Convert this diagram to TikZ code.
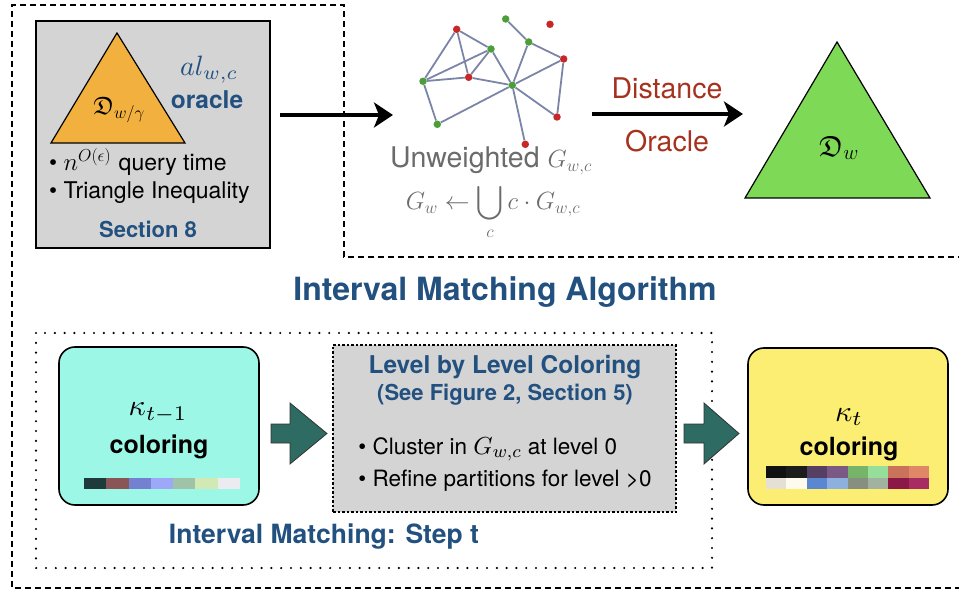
\documentclass[tikz,border=0pt]{standalone}
\usepackage{amsmath}
\usepackage{amssymb}
\usepackage{fontspec}
\setmainfont{TeX Gyre Heros}
\usepackage{tikz}
\usetikzlibrary{arrows,arrows.meta,shapes,calc}

\definecolor{boxgrey}{HTML}{D4D4D4}
\definecolor{triorange}{HTML}{F2B13F}
\definecolor{trigreen}{HTML}{7ED957}
\definecolor{titleblue}{HTML}{22507F}
\definecolor{oraclered}{HTML}{A5321E}
\definecolor{unwgrey}{HTML}{6B6B6B}
\definecolor{edgeblue}{HTML}{7A85A8}
\definecolor{vred}{HTML}{C62828}
\definecolor{vgreen}{HTML}{4C9F38}
\definecolor{oldcyan}{HTML}{9CF7E7}
\definecolor{newyellow}{HTML}{FBEE73}
\definecolor{stepteal}{HTML}{2E6B63}
% palette of kappa_{t-1}
\definecolor{kA}{HTML}{1E3A3A}
\definecolor{kB}{HTML}{8A5555}
\definecolor{kC}{HTML}{7480D0}
\definecolor{kD}{HTML}{9EA8F8}
\definecolor{kE}{HTML}{9FC3A6}
\definecolor{kF}{HTML}{D2E9B5}
\definecolor{kG}{HTML}{ECEBF0}
% palette of kappa_t
\definecolor{ka1}{HTML}{111111}
\definecolor{ka2}{HTML}{1C1C1C}
\definecolor{ka3}{HTML}{553F63}
\definecolor{ka4}{HTML}{7A5A85}
\definecolor{ka5}{HTML}{76B46A}
\definecolor{ka6}{HTML}{95DF9A}
\definecolor{ka7}{HTML}{C8735A}
\definecolor{ka8}{HTML}{E08768}
\definecolor{kb1}{HTML}{E4E0D3}
\definecolor{kb2}{HTML}{FDFAEE}
\definecolor{kb3}{HTML}{5B86D1}
\definecolor{kb4}{HTML}{8DB0DF}
\definecolor{kb5}{HTML}{878F80}
\definecolor{kb6}{HTML}{A1B3A0}
\definecolor{kb7}{HTML}{8C1848}
\definecolor{kb8}{HTML}{A82B63}

\newcommand{\fsz}[1]{\fontsize{#1}{#1}\selectfont}

\tikzset{
  outerline/.style={line width=2.2pt, dash pattern=on 6pt off 4pt},
  innerline/.style={line width=2.4pt, line cap=round, dash pattern=on 0pt off 9.8pt},
  greybox/.style={draw, fill=boxgrey, line width=1.2pt, inner sep=0pt},
  stepbox/.style={draw, rounded corners=16pt, line width=1.6pt, inner sep=0pt},
  levelbox/.style={draw, fill=boxgrey, line width=1.3pt, dash pattern=on 2.5pt off 2pt, inner sep=0pt},
  gedge/.style={edgeblue, line width=1.8pt},
  rdot/.style={circle, fill=vred, inner sep=0pt, minimum size=7.5pt},
  gdot/.style={circle, fill=vgreen, inner sep=0pt, minimum size=7.5pt},
  bigarrow/.style={line width=4pt, -{Stealth[length=19pt, width=25pt, inset=5pt]}},
  blockarrow/.style={fill=stepteal, draw=black!80, line width=0.8pt},
  bluebold/.style={titleblue, font=\bfseries},
}

\begin{document}
\begin{tikzpicture}[x=1pt,y=-1pt]
\useasboundingbox (0,0) rectangle (959,596);

% frame of the whole algorithm
\draw[outerline] (964,257) -- (344,257) -- (344,5) -- (12,5) -- (12,588) -- (964,588);

% al oracle box
\node[greybox, minimum width=234pt, minimum height=227pt] (alBox) at (153,134.5) {};
\filldraw[fill=triorange, line width=1.2pt] (117,33) -- (185,143) -- (51,143) -- cycle;
\node (dwg) at (119,110) {\fsz{25}$\mathfrak{D}_{w/\gamma}$};
\node[titleblue, scale=2.8, inner sep=0pt] (alwc) at (209,70) {$al_{w,c}$};
\node[bluebold] (oracle) at (207,100) {\fsz{24.5}oracle};
\node[anchor=base west, inner sep=0pt] (qtime) at (49,171) {\fsz{23}\textbullet{} \fsz{27}$n^{O(\epsilon)}$ \fsz{23}query time};
\node[anchor=base west, inner sep=0pt] (triineq) at (49,199) {\fsz{23}\textbullet{} Triangle Inequality};
\node[bluebold] (sec8) at (148,229) {\fsz{22}Section 8};

% unweighted graphs
\node[rdot] (v1) at (456.7,29.3) {};
\node[gdot] (v2) at (505.7,19) {};
\node[rdot] (v3) at (550,24.3) {};
\node[gdot] (v4) at (491,49) {};
\node[gdot] (v5) at (528.7,42) {};
\node[rdot] (v6) at (563.7,59) {};
\node[gdot] (v7) at (423,81.3) {};
\node[rdot] (v8) at (468.7,77.3) {};
\node[gdot] (v9) at (512.3,85.3) {};
\node[gdot] (v10) at (437.3,124.3) {};
\node[rdot] (v11) at (557,117) {};
\node[rdot] (v12) at (525.3,144.3) {};
\draw[gedge] (v1) -- (v4);
\draw[gedge] (v1) -- (v8);
\draw[gedge] (v1) -- (v7);
\draw[gedge] (v4) -- (v7);
\draw[gedge] (v4) -- (v8);
\draw[gedge] (v4) -- (v9);
\draw[gedge] (v7) -- (v8);
\draw[gedge] (v8) -- (v9);
\draw[gedge] (v7) -- (v10);
\draw[gedge] (v10) -- (v9);
\draw[gedge] (v2) -- (v5);
\draw[gedge] (v5) -- (v9);
\draw[gedge] (v5) -- (v6);
\draw[gedge] (v6) -- (v9);
\draw[gedge] (v6) -- (v11);
\draw[gedge] (v9) -- (v11);
\draw[gedge] (v9) -- (v12);
\node[unwgrey, anchor=base, inner sep=0pt] (unw) at (491,168) {\fsz{28.5}Unweighted \fsz{25}$G_{w,c}$};
\node[unwgrey, anchor=base, inner sep=0pt] (union) at (493,210) {\fsz{24}$\displaystyle G_w \leftarrow \bigcup_c c\cdot G_{w,c}$};

% distance oracle
\coordinate (a1s) at (280,115);
\coordinate (a1e) at (393,115);
\draw[bigarrow] (a1s) -- (a1e);
\coordinate (a2s) at (592,114);
\coordinate (a2e) at (743,114);
\draw[bigarrow] (a2s) -- (a2e);
\node[oraclered] (dist) at (667,88) {\fsz{28.5}Distance};
\node[oraclered] (orc) at (667,141) {\fsz{28.5}Oracle};
\filldraw[fill=trigreen, line width=1.2pt] (837,42) -- (930,198) -- (745,198) -- cycle;
\node (dw) at (839,148) {\fsz{29}$\mathfrak{D}_w$};

\node[bluebold] (ima) at (505,292) {\fsz{32}Interval Matching Algorithm};

% one step
\draw[innerline] (36,333) rectangle (712,568);
\node[stepbox, fill=oldcyan, minimum width=200pt, minimum height=158pt] (oldcol) at (159,426) {};
\node[scale=3, inner sep=0pt] (kold) at (158,413) {$\kappa_{t-1}$};
\node (oldtxt) at (159,447) {\fsz{25}\bfseries coloring};
\fill[kA] (84,478) rectangle (106.3,489);
\fill[kB] (106.3,478) rectangle (128.6,489);
\fill[kC] (128.6,478) rectangle (150.9,489);
\fill[kD] (150.9,478) rectangle (173.1,489);
\fill[kE] (173.1,478) rectangle (195.4,489);
\fill[kF] (195.4,478) rectangle (217.7,489);
\fill[kG] (217.7,478) rectangle (240,489);

\filldraw[blockarrow] (271,424) -- (290,424) -- (290,403) -- (327,433.5) -- (290,464) -- (290,443) -- (271,443) -- cycle;

\node[levelbox, minimum width=343pt, minimum height=167pt] (level) at (504.5,428.5) {};
\node[bluebold] (lvltitle) at (505,367) {\fsz{24.5}Level by Level Coloring};
\node[bluebold] (lvlref) at (505,395) {\fsz{22}(See Figure 2, Section 5)};
\node[anchor=base west, inner sep=0pt, scale=2.25] (clus) at (358,454) {\textbullet{} Cluster in {\fontsize{11}{11}\selectfont$G_{w,c}$} at level 0};
\node[anchor=base west, inner sep=0pt, scale=2.25] (refine) at (358,486) {\textbullet{} Refine partitions for level >0};

\filldraw[blockarrow] (684,424) -- (704,424) -- (704,403) -- (739,433.5) -- (704,464) -- (704,443) -- (684,443) -- cycle;

\node[stepbox, fill=newyellow, minimum width=200pt, minimum height=157pt] (newcol) at (848,426.5) {};
\node[scale=3, inner sep=0pt] (knew) at (849,417) {$\kappa_t$};
\node (newtxt) at (849,449) {\fsz{25}\bfseries coloring};
\fill[ka1] (766,466) rectangle (786.4,477.5);
\fill[ka2] (786.4,466) rectangle (806.8,477.5);
\fill[ka3] (806.8,466) rectangle (827.1,477.5);
\fill[ka4] (827.1,466) rectangle (847.5,477.5);
\fill[ka5] (847.5,466) rectangle (867.9,477.5);
\fill[ka6] (867.9,466) rectangle (888.3,477.5);
\fill[ka7] (888.3,466) rectangle (908.6,477.5);
\fill[ka8] (908.6,466) rectangle (929,477.5);
\fill[kb1] (766,477.5) rectangle (786.4,489);
\fill[kb2] (786.4,477.5) rectangle (806.8,489);
\fill[kb3] (806.8,477.5) rectangle (827.1,489);
\fill[kb4] (827.1,477.5) rectangle (847.5,489);
\fill[kb5] (847.5,477.5) rectangle (867.9,489);
\fill[kb6] (867.9,477.5) rectangle (888.3,489);
\fill[kb7] (888.3,477.5) rectangle (908.6,489);
\fill[kb8] (908.6,477.5) rectangle (929,489);

\node[bluebold] (stept) at (324,537) {\fsz{26.5}Interval Matching: Step t};

\end{tikzpicture}
\end{document}
